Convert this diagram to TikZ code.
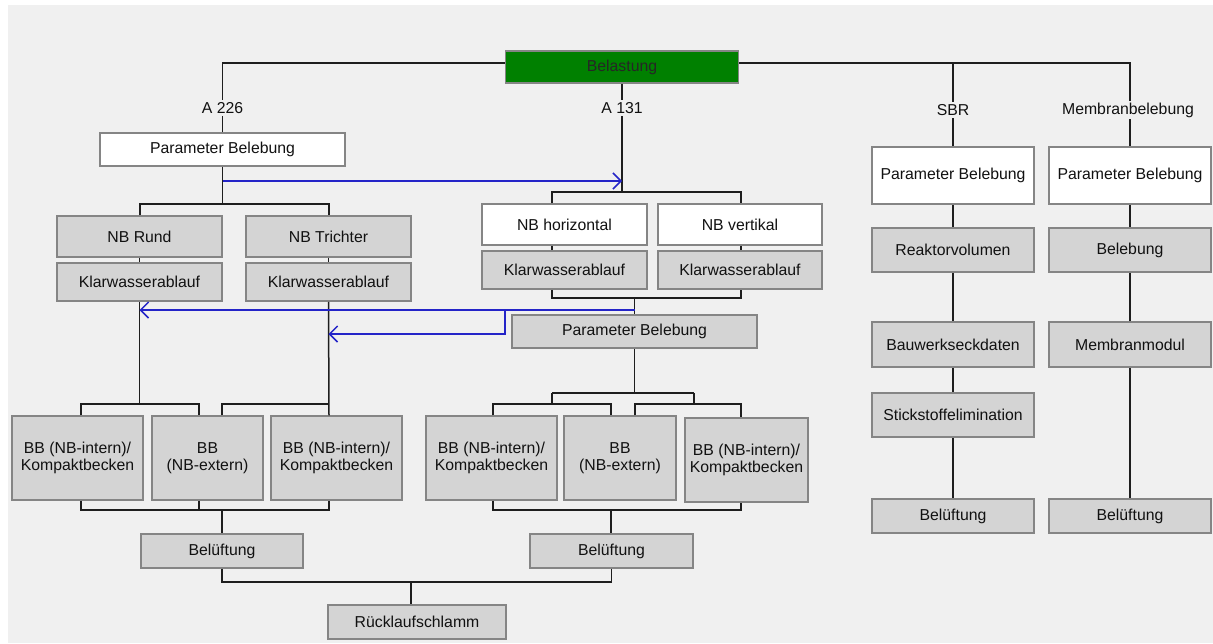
\documentclass[tikz,border=0pt]{standalone}
\usepackage{fontspec}
\setmainfont{Liberation Sans}
\usetikzlibrary{arrows.meta}
\definecolor{hgrund}{HTML}{F0F0F0}
\definecolor{kastengrau}{HTML}{D4D4D4}
\definecolor{rahmen}{HTML}{858585}
\definecolor{linienfarbe}{HTML}{1E1E1E}
\definecolor{pfeilblau}{HTML}{2424C8}
\definecolor{gruen}{HTML}{008000}
\definecolor{schrift}{HTML}{111111}
\begin{document}
\begin{tikzpicture}[x=1pt, y=-1pt,
    kasten/.style={draw=rahmen, line width=1.5pt, fill=kastengrau, inner sep=0pt, text=schrift,
      align=center, font=\fontsize{15.8}{17.5}\selectfont},
    weiss/.style={kasten, fill=white},
    gruenkasten/.style={kasten, fill=gruen, text=black!85},
    titel/.style={fill=hgrund, inner sep=2pt, text=schrift, font=\fontsize{15.8}{17.5}\selectfont},
    linie/.style={line width=1.5pt, draw=linienfarbe},
    blau/.style={line width=1.5pt, draw=pfeilblau, -{Straight Barb[length=8pt, width=16pt]}}]
    \useasboundingbox (0,0) rectangle (1213,643);
    \fill[white] (0,0) rectangle (1213,643);
    \fill[hgrund] (8,5) rectangle (1213,643);
    % Kopf
    \node[gruenkasten, minimum width=233, minimum height=32] (belastung) at (622,67) {Belastung};
    % A 226
    \node[weiss, minimum width=245, minimum height=33] (pb226) at (222.5,149.5) {Parameter Belebung};
    \node[kasten, minimum width=165, minimum height=41] (nbrund) at (139.5,236.5) {NB Rund};
    \node[kasten, minimum width=165, minimum height=41] (nbtrichter) at (328.5,236.5) {NB Trichter};
    \node[kasten, minimum width=165, minimum height=38] (kwrund) at (139.5,282) {Klarwasserablauf};
    \node[kasten, minimum width=165, minimum height=38] (kwtrichter) at (328.5,282) {Klarwasserablauf};
    \node[kasten, minimum width=131, minimum height=84] (bb1) at (77.5,458) {BB (NB-intern)/\\Kompaktbecken};
    \node[kasten, minimum width=111, minimum height=84] (bb2) at (207.5,458) {BB\\(NB-extern)};
    \node[kasten, minimum width=131, minimum height=84] (bb3) at (336.5,458) {BB (NB-intern)/\\Kompaktbecken};
    \node[kasten, minimum width=162, minimum height=34] (bel226) at (222,551) {Belüftung};
    \node[kasten, minimum width=178, minimum height=34] (rueck) at (417,622) {Rücklaufschlamm};
    % A 131
    \node[weiss, minimum width=165, minimum height=41] (nbhor) at (564.5,224.5) {NB horizontal};
    \node[weiss, minimum width=164, minimum height=41] (nbver) at (740,224.5) {NB vertikal};
    \node[kasten, minimum width=165, minimum height=38] (kwhor) at (564.5,270) {Klarwasserablauf};
    \node[kasten, minimum width=164, minimum height=38] (kwver) at (740,270) {Klarwasserablauf};
    \node[kasten, minimum width=245, minimum height=33] (pb131) at (634.5,331.5) {Parameter Belebung};
    \node[kasten, minimum width=131, minimum height=84] (bb4) at (491.5,458) {BB (NB-intern)/\\Kompaktbecken};
    \node[kasten, minimum width=112, minimum height=84] (bb5) at (620,458) {BB\\(NB-extern)};
    \node[kasten, minimum width=123, minimum height=84] (bb6) at (746.5,460) {BB (NB-intern)/\\Kompaktbecken};
    \node[kasten, minimum width=163, minimum height=34] (bel131) at (611.5,551) {Belüftung};
    % SBR
    \node[weiss, minimum width=162, minimum height=57] (pbsbr) at (953,175.5) {Parameter Belebung};
    \node[kasten, minimum width=162, minimum height=44] (reaktor) at (953,250) {Reaktorvolumen};
    \node[kasten, minimum width=162, minimum height=45] (bauwerk) at (953,344.5) {Bauwerkseckdaten};
    \node[kasten, minimum width=162, minimum height=44] (stick) at (953,415) {Stickstoffelimination};
    \node[kasten, minimum width=162, minimum height=34] (belsbr) at (953,516) {Belüftung};
    % Membranbelebung
    \node[weiss, minimum width=162, minimum height=57] (pbmem) at (1130,175.5) {Parameter Belebung};
    \node[kasten, minimum width=162, minimum height=44] (belebung) at (1130,250) {Belebung};
    \node[kasten, minimum width=162, minimum height=45] (modul) at (1130,344.5) {Membranmodul};
    \node[kasten, minimum width=162, minimum height=34] (belmem) at (1130,516) {Belüftung};

    % Kopfleiste
    \coordinate (bar) at (0,63);
    \draw[linie] (pb226.north) |- (belastung.west |- bar);
    \draw[linie] (belastung.east |- bar) -| (pbmem.north);
    \draw[linie] (pbsbr.north) -- (pbsbr.north |- bar);

    % A 226
    \coordinate (g1) at (222.5,204); \coordinate (g1l) at (140,204); \coordinate (g1r) at (329,204);
    \draw[linie] (pb226.south) -- (g1);
    \draw[linie] (g1l |- nbrund.north) |- (g1r) -- (g1r |- nbtrichter.north);
    \draw[linie] (nbrund) -- (kwrund);
    \draw[linie] (nbtrichter) -- (kwtrichter);
    \coordinate (g2a) at (81,404); \coordinate (g2b) at (199,404);
    \coordinate (g2c) at (222,404); \coordinate (g2d) at (329,404);
    \draw[linie] (kwrund.south) -- (kwrund.south |- g2a);
    \draw[linie] (g2a |- bb1.north) |- (g2b) -- (g2b |- bb2.north);
    \draw[linie] (kwtrichter.south) -- (g2d |- bb3.north);
    \draw[linie] (g2c |- bb2.north) |- (g2d);
    \coordinate (g3a) at (81,510); \coordinate (g3b) at (199,510);
    \coordinate (g3c) at (222,510); \coordinate (g3d) at (329,510);
    \draw[linie] (g3a |- bb1.south) |- (g3d) -- (g3d |- bb3.south);
    \draw[linie] (g3b |- bb2.south) -- (g3b);
    \draw[linie] (g3c) -- (g3c |- bel226.north);

    % Ruecklaufschlamm
    \coordinate (jr) at (411,582);
    \draw[linie] (bel226.south) |- (jr) -- (jr |- rueck.north);
    \draw[linie] (bel131.south) |- (jr);

    % A 131
    \coordinate (h1) at (622,192); \coordinate (h1l) at (552,192); \coordinate (h1r) at (741,192);
    \draw[linie] (belastung.south) -- (h1);
    \draw[linie] (h1l |- nbhor.north) |- (h1r) -- (h1r |- nbver.north);
    \draw[linie] (h1l |- nbhor.south) -- (h1l |- kwhor.north);
    \draw[linie] (h1r |- nbver.south) -- (h1r |- kwver.north);
    \coordinate (k1) at (552,298); \coordinate (k2) at (741,298); \coordinate (k3) at (634.5,298);
    \draw[linie] (k1 |- kwhor.south) |- (k2) -- (k2 |- kwver.south);
    \draw[linie] (k3) -- (pb131.north);
    \coordinate (m1) at (634.5,393); \coordinate (m1l) at (552,393); \coordinate (m1r) at (694,393);
    \draw[linie] (pb131.south) -- (m1);
    \draw[linie] (m1l) -- (m1r);
    \coordinate (n1) at (493,404); \coordinate (n2) at (611,404);
    \coordinate (n3) at (635,404); \coordinate (n4) at (741,404);
    \draw[linie] (m1l) -- (m1l |- n1);
    \draw[linie] (m1r) -- (m1r |- n3);
    \draw[linie] (n1 |- bb4.north) |- (n2) -- (n2 |- bb5.north);
    \draw[linie] (n3 |- bb5.north) |- (n4) -- (n4 |- bb6.north);
    \coordinate (p1) at (493,510); \coordinate (p2) at (611,510); \coordinate (p3) at (741,510);
    \draw[linie] (p1 |- bb4.south) |- (p3) -- (p3 |- bb6.south);
    \draw[linie] (p2) -- (p2 |- bel131.north);

    % SBR und Membranbelebung
    \foreach \a/\b in {pbsbr/reaktor, reaktor/bauwerk, bauwerk/stick, stick/belsbr,
                       pbmem/belebung, belebung/modul, modul/belmem}
        \draw[linie] (\a) -- (\b);

    % Rueckfuehrungen
    \coordinate (b1) at (222.5,181);
    \draw[blau] (b1) -- (b1 -| h1);
    \coordinate (b2) at (634.5,310);
    \draw[blau] (b2) -- (b2 -| kwrund.south);
    \coordinate (b3) at (505,310); \coordinate (b3u) at (505,334);
    \draw[blau] (b3) -- (b3u) -- (b3u -| kwtrichter.south);

    % Beschriftungen
    \node[titel] (la226) at (222.5,108) {A 226};
    \node[titel] (la131) at (622,108) {A 131};
    \node[titel] (lsbr) at (953,110) {SBR};
    \node[titel] (lmem) at (1128,110) {Membranbelebung};
\end{tikzpicture}
\end{document}
